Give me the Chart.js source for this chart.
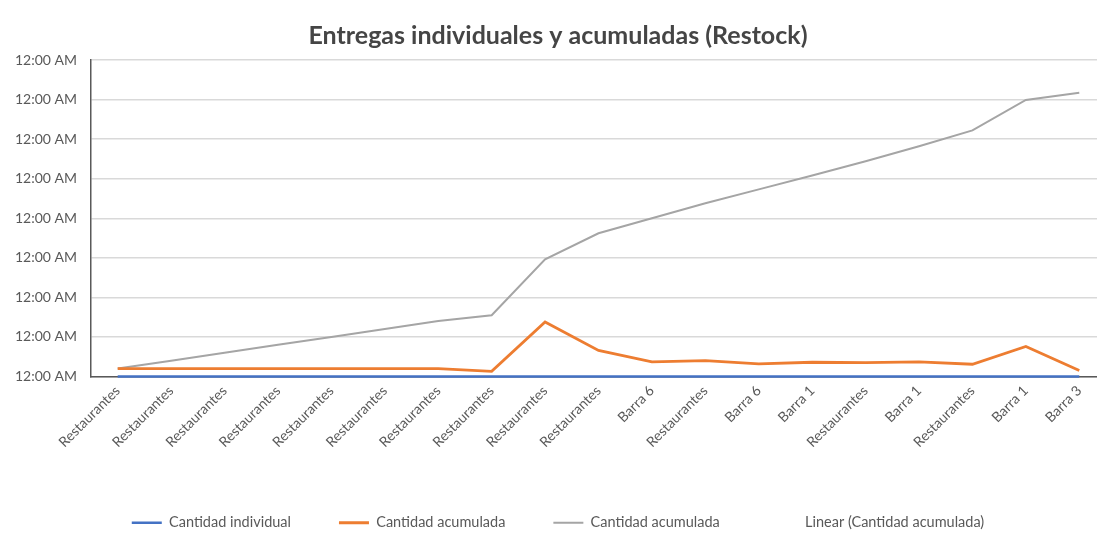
<!DOCTYPE html>
<html>
<head>
<meta charset="utf-8">
<script src="https://cdn.jsdelivr.net/npm/chart.js@4"></script>
<style>
  html, body { margin: 0; padding: 0; background: #fff; overflow: hidden; }
  #wrap { position: relative; width: 1106px; height: 539px; }
</style>
</head>
<body>
<div id="wrap"><canvas id="deliveryChart"></canvas></div>
<script>
// Destinations of each delivery, in order
const destinations = [
  'Restaurantes', 'Restaurantes', 'Restaurantes', 'Restaurantes', 'Restaurantes',
  'Restaurantes', 'Restaurantes', 'Restaurantes', 'Restaurantes', 'Restaurantes',
  'Barra 6', 'Restaurantes', 'Barra 6', 'Barra 1', 'Restaurantes',
  'Barra 1', 'Restaurantes', 'Barra 1', 'Barra 3'
];

// Series values (in grid steps of the time axis)
const individualQty = [0, 0, 0, 0, 0, 0, 0, 0, 0, 0, 0, 0, 0, 0, 0, 0, 0, 0, 0];
const perDeliveryQty = [0.2, 0.2, 0.2, 0.2, 0.2, 0.2, 0.2, 0.13, 1.38, 0.66, 0.37, 0.4, 0.32, 0.36, 0.35, 0.37, 0.31, 0.76, 0.15];
const accumulatedQty = [0.2, 0.4, 0.6, 0.8, 1.0, 1.2, 1.4, 1.55, 2.96, 3.62, 4.0, 4.38, 4.73, 5.08, 5.44, 5.82, 6.22, 6.99, 7.17];

// Tick labels on the value axis
const valueTickLabel = '12:00 AM';

const FONT = 'Lato, "Noto Sans", sans-serif';
const TEXT_GREY = '#595959';

function buildChart() {
  const ctx = document.getElementById('deliveryChart').getContext('2d');
  return new Chart(ctx, {
    type: 'line',
    data: {
      labels: destinations,
      datasets: [
        {
          label: 'Cantidad individual',
          data: individualQty,
          borderColor: '#4472C4',
          backgroundColor: '#4472C4',
          borderWidth: 2.5,
          pointRadius: 0,
          clip: 4
        },
        {
          label: 'Cantidad acumulada',
          data: perDeliveryQty,
          borderColor: '#ED7D31',
          backgroundColor: '#ED7D31',
          borderWidth: 2.8,
          pointRadius: 0,
          clip: 4
        },
        {
          label: 'Cantidad acumulada',
          data: accumulatedQty,
          borderColor: '#A5A5A5',
          backgroundColor: '#A5A5A5',
          borderWidth: 2,
          pointRadius: 0,
          clip: 4
        },
        {
          // trendline entry, shown only in the legend
          label: 'Linear (Cantidad acumulada)',
          data: [],
          borderColor: 'transparent',
          backgroundColor: 'transparent',
          borderWidth: 1,
          pointRadius: 0
        }
      ]
    },
    options: {
      responsive: true,
      maintainAspectRatio: false,
      animation: false,
      layout: { padding: { top: 0, right: 0, bottom: -1, left: 10 } },
      plugins: {
        title: {
          display: true,
          text: 'Entregas individuales y acumuladas (Restock)',
          color: '#454545',
          font: { family: FONT, size: 25, weight: 'bold' },
          padding: { top: 21, bottom: 9 }
        },
        legend: {
          position: 'bottom',
          labels: {
            color: TEXT_GREY,
            font: { family: FONT, size: 14.5 },
            usePointStyle: true,
            pointStyle: 'line',
            pointStyleWidth: 30,
            padding: 48
          }
        },
        tooltip: { enabled: false }
      },
      scales: {
        x: {
          offset: true,
          grid: { display: false, drawTicks: false },
          border: { display: true, color: '#595959', width: 1.5 },
          ticks: {
            autoSkip: false,
            minRotation: 45,
            maxRotation: 45,
            padding: 6,
            color: TEXT_GREY,
            font: { family: FONT, size: 14 }
          },
          afterFit: function(scale) { scale.height = 91; }
        },
        y: {
          min: 0,
          max: 8,
          grid: { color: '#d9d9d9', lineWidth: 1.5, drawTicks: false },
          border: { display: true, color: '#595959', width: 1.5 },
          ticks: {
            stepSize: 1,
            padding: 14,
            color: TEXT_GREY,
            font: { family: FONT, size: 14 },
            callback: function() { return valueTickLabel; }
          },
          afterFit: function(scale) { scale.width = 81; }
        }
      }
    }
  });
}

document.addEventListener('DOMContentLoaded', function() {
  buildChart();
});
</script>
</body>
</html>
